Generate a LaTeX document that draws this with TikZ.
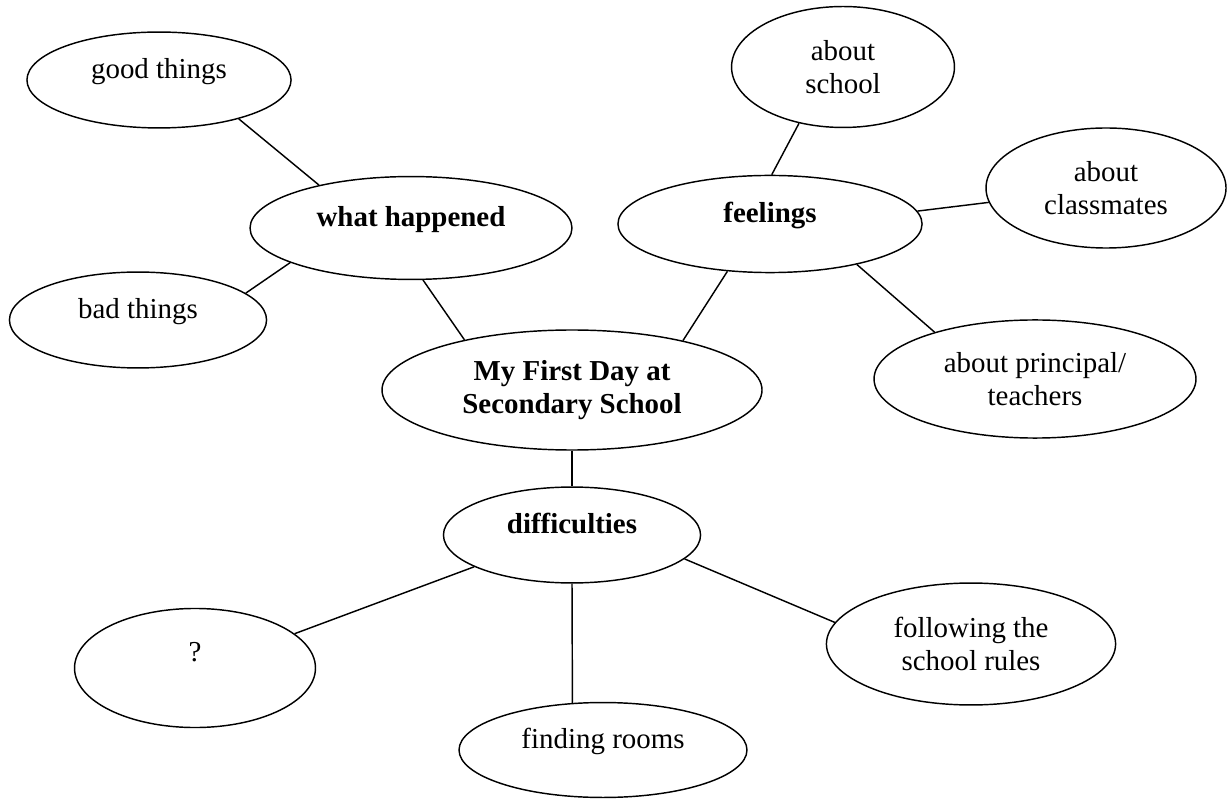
\documentclass[tikz,border=0pt]{standalone}
\usepackage{fontspec}
\setmainfont{Liberation Serif}
\usetikzlibrary{shapes.geometric}

\begin{document}
\begin{tikzpicture}[x=0.415pt, y=-0.415pt,
        bubble/.style={draw, ellipse, inner sep=0pt, align=center, line width=0.6pt,
            font=\fontsize{12}{13.8}\selectfont},
        oneline/.style={text height=8pt, text depth=9pt},
        link/.style={line width=0.6pt}]
        \useasboundingbox (0,0) rectangle (1227,800);

        % Centre of the map
        \node (topic) at (572,390) [bubble, font=\fontsize{12}{13.8}\selectfont\bfseries,
            minimum width=157.7pt, minimum height=49.8pt] {My First Day at\\Secondary School};

        % The three branches
        \node (what) at (411,228) [bubble, oneline, font=\fontsize{12}{13.8}\selectfont\bfseries,
            minimum width=133.6pt, minimum height=42.7pt] {what happened};
        \node (feel) at (770,224) [bubble, oneline, font=\fontsize{12}{13.8}\selectfont\bfseries,
            minimum width=126.2pt, minimum height=40.3pt] {feelings};
        \node (diff) at (572,535) [bubble, oneline, font=\fontsize{12}{13.8}\selectfont\bfseries,
            minimum width=106.7pt, minimum height=39.8pt] {difficulties};

        % Leaves of what happened
        \node (good) at (159,80) [bubble, oneline, minimum width=109.6pt, minimum height=39.8pt] {good things};
        \node (bad) at (138,320) [bubble, oneline, minimum width=106.7pt, minimum height=39.8pt] {bad things};

        % Leaves of feelings
        \node (school) at (843,67) [bubble, minimum width=92.5pt, minimum height=50.2pt] {about\\school};
        \node (mates) at (1106,188) [bubble, minimum width=99.6pt, minimum height=49.8pt] {about\\classmates};
        \node (staff) at (1035,379) [bubble, minimum width=133.6pt, minimum height=49pt] {about principal/\\teachers};

        % Leaves of difficulties
        \node (other) at (195,668) [bubble, text height=8pt, text depth=13pt,
            minimum width=100pt, minimum height=49.4pt] {?};
        \node (rooms) at (603,750) [bubble, oneline, minimum width=119.5pt, minimum height=39.4pt] {finding rooms};
        \node (rules) at (971,644) [bubble, minimum width=120pt, minimum height=50.6pt] {following the\\school rules};

        % Connectors
        \draw[link] (good.-26) -- (what.155);
        \draw[link] (bad.14) -- (what.196);
        \draw[link] (what.-77) -- (topic.155.6);
        \draw[link] (school.-128.2) -- (feel.88);
        \draw[link] (feel.5.9) -- (mates.187.7);
        \draw[link] (feel.-132.5) -- (topic.24.6);
        \draw[link] (feel.-25.5) -- (staff.155.9);
        \draw[link] (topic.south) -- (diff.north);
        \draw[link] (diff.198.4) -- (other.19.1);
        \draw[link] (diff.south) -- (rooms.123.7);
        \draw[link] (diff.-12.7) -- (rules.171.2);
    \end{tikzpicture}
\end{document}
